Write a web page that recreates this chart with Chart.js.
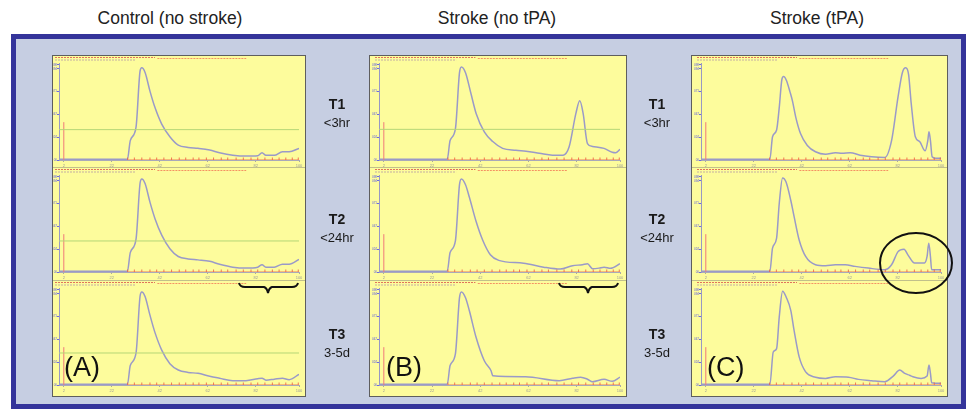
<!DOCTYPE html>
<html>
<head>
<meta charset="utf-8">
<script src="https://cdn.jsdelivr.net/npm/chart.js@4.4.1/dist/chart.umd.min.js"></script>
<style>
  html, body { margin:0; padding:0; background:#ffffff; width:976px; height:409px; overflow:hidden; font-family:"Liberation Sans", Arial, sans-serif; }
  .abs { position:absolute; }
  #frame { left:11px; top:34px; width:955px; height:375px; background:#c6cee2; border:5px solid #34349a; box-sizing:border-box; }
  .colTitle { width:300px; text-align:center; font-size:17.5px; color:#222; top:8px; }
  .panel { background:#fdfc9c; border:1px solid #5e5e5e; box-sizing:border-box; top:55px; height:342px; }
  .sep { height:1px; background:rgba(120,120,120,0.45); }
  .tlab { width:80px; text-align:center; color:#1a1a1a; line-height:17px; }
  .tlab b { font-size:14px; }
  .tlab span { font-size:13px; }
  .big { font-size:27px; color:#111; }
  canvas { position:absolute; }
</style>
</head>
<body>
<div id="frame" class="abs"></div>

<div class="abs colTitle" style="left:20px;">Control (no stroke)</div>
<div class="abs colTitle" style="left:347px;">Stroke (no tPA)</div>
<div class="abs colTitle" style="left:667px;">Stroke (tPA)</div>

<div class="abs panel" style="left:52px;width:254px;"></div>
<div class="abs panel" style="left:369px;width:258px;"></div>
<div class="abs panel" style="left:691px;width:257px;"></div>

<div class="abs sep" style="left:53px;width:252px;top:167px;"></div>
<div class="abs sep" style="left:53px;width:252px;top:280px;"></div>
<div class="abs sep" style="left:370px;width:256px;top:167px;"></div>
<div class="abs sep" style="left:370px;width:256px;top:280px;"></div>
<div class="abs sep" style="left:692px;width:255px;top:167px;"></div>
<div class="abs sep" style="left:692px;width:255px;top:280px;"></div>

<canvas id="c00" width="252" height="112" style="left:53px;top:56px;"></canvas>
<canvas id="c01" width="252" height="112" style="left:53px;top:168px;"></canvas>
<canvas id="c02" width="252" height="112" style="left:53px;top:281px;"></canvas>
<canvas id="c10" width="256" height="112" style="left:370px;top:56px;"></canvas>
<canvas id="c11" width="256" height="112" style="left:370px;top:168px;"></canvas>
<canvas id="c12" width="256" height="112" style="left:370px;top:281px;"></canvas>
<canvas id="c20" width="255" height="112" style="left:692px;top:56px;"></canvas>
<canvas id="c21" width="255" height="112" style="left:692px;top:168px;"></canvas>
<canvas id="c22" width="255" height="112" style="left:692px;top:281px;"></canvas>

<div class="abs tlab" style="left:297px;top:95px;"><b>T1</b><br><span>&lt;3hr</span></div>
<div class="abs tlab" style="left:297px;top:210px;"><b>T2</b><br><span>&lt;24hr</span></div>
<div class="abs tlab" style="left:297px;top:325px;"><b>T3</b><br><span>3-5d</span></div>
<div class="abs tlab" style="left:617px;top:95px;"><b>T1</b><br><span>&lt;3hr</span></div>
<div class="abs tlab" style="left:617px;top:210px;"><b>T2</b><br><span>&lt;24hr</span></div>
<div class="abs tlab" style="left:617px;top:325px;"><b>T3</b><br><span>3-5d</span></div>

<div class="abs big" style="left:64px;top:352px;">(A)</div>
<div class="abs big" style="left:386px;top:352px;">(B)</div>
<div class="abs big" style="left:707px;top:352px;">(C)</div>

<svg class="abs" style="left:0;top:0;" width="976" height="409">
  <path d="M239,283 Q240,287 245,287 L264,287 Q267,288 268,293 Q269,288 272,287 L292,287 Q297,287 298,283" fill="none" stroke="#111" stroke-width="2"/>
  <path d="M559,283 Q560,287 565,287 L584,287 Q587,288 588,293 Q589,288 592,287 L612,287 Q617,287 618,283" fill="none" stroke="#111" stroke-width="2"/>
  <ellipse cx="916" cy="263" rx="36" ry="30" fill="none" stroke="#111" stroke-width="2"/>
</svg>

<script>
// ---------- DATA (x: % of run along axis, y: relative absorbance) ----------
const xControlT1 = [0, 28.5, 29.7, 32.1, 33.8, 34.5, 35.9, 37.9, 40, 42.8, 46.2, 49.7, 53.8, 57.9, 62.8, 66.9, 72.4, 77.9, 82.8, 84.6, 86.2, 89.7, 93.1, 95.9, 100];
const yControlT1 = [0.7, 0.7, 20, 34, 92, 95, 90, 71, 54, 37, 24, 15.3, 13, 12, 10.2, 7.5, 5, 4, 4.4, 7.5, 4.8, 4.8, 8.5, 8.5, 12];
const xControlT2 = [0, 28.5, 29.7, 32.1, 33.8, 34.5, 35.9, 37.9, 40, 42.8, 46.2, 49.7, 53.8, 57.9, 62.8, 66.9, 72.4, 77.9, 82.8, 84.6, 86.2, 89.7, 93.1, 95.9, 100];
const yControlT2 = [0.7, 0.7, 20, 34, 92, 96, 91, 72, 55, 38, 24, 16, 13.5, 12.5, 11, 8, 5, 4, 5, 7.5, 5, 5, 8, 8, 13];
const xControlT3 = [0, 28.5, 29.7, 32.1, 33.8, 34.5, 35.9, 37.9, 40, 42.8, 46.2, 49.7, 53.8, 57.9, 62.8, 66.9, 72.4, 77.9, 82.8, 84.6, 86.2, 89.7, 93.1, 95.9, 100];
const yControlT3 = [0.7, 0.7, 20, 33, 92, 96, 91, 72, 54, 36, 22, 15.5, 13, 12, 9, 7, 4.5, 4.5, 6.5, 7, 5, 6, 7, 5.5, 11];

const xNoTpaT1 = [0, 28.3, 29.5, 31.7, 33.4, 34.2, 35.9, 38.2, 40.3, 43.7, 47.2, 51.3, 56.8, 61, 66.5, 72, 76.4, 78.9, 81.7, 83.3, 84.7, 86.5, 88.6, 93.4, 96.8, 98.2, 100];
const yNoTpaT1 = [0.7, 0.7, 20, 32, 90, 96, 90, 68, 48, 29, 19, 12, 10, 9, 7, 5, 5, 13.6, 48, 61, 48, 17, 14, 12, 8, 7.5, 11];
const xNoTpaT2 = [0, 28.3, 29.5, 31.7, 33.4, 34.2, 35.9, 37.5, 40.3, 43, 46.2, 49.7, 60, 68.3, 75.2, 80.3, 84.4, 86.5, 88.6, 91.3, 93.4, 96.1, 100];
const yNoTpaT2 = [0.7, 0.7, 20, 32, 90, 96, 90, 77, 52, 33, 17.8, 12, 9, 5, 3, 6.5, 7.5, 8.5, 3.4, 4, 5, 3.8, 8.5];
const xNoTpaT3 = [0, 28.3, 29.5, 31.7, 33.4, 34.2, 35.9, 37.5, 40.3, 43.7, 46.5, 47.2, 60.8, 74.8, 80.3, 83.7, 86.5, 88.6, 93.4, 96.8, 100];
const yNoTpaT3 = [0.7, 0.7, 20, 32, 90, 96, 90, 76.5, 49, 25, 14.7, 9.6, 8.6, 4.5, 7, 8, 6, 3.4, 5.8, 3.8, 8];

const xTpaT1 = [0, 28.7, 29.8, 31.5, 32.6, 33.7, 34.4, 35.6, 37.1, 38.1, 39.5, 41.5, 44.3, 47.7, 51.9, 56, 58.7, 62.2, 66.3, 71.1, 76.6, 79.4, 82.1, 83.9, 85.3, 86.5, 87.6, 89.3, 91.1, 93.4, 94.5, 95, 95.6, 96.3, 97.9, 100];
const yTpaT1 = [0.7, 0.7, 24, 31, 54, 83, 86, 82, 70, 61, 44, 27, 15, 8.5, 6, 7.5, 7, 7.5, 5, 3.4, 2.7, 20, 65, 90, 95, 88, 58, 24, 19, 9.5, 20, 29, 20, 3.4, 1.7, 1.7];
const xTpaT2 = [0, 28.7, 29.8, 31.5, 32.6, 34, 35.4, 37.4, 38.8, 40.9, 43.6, 47.7, 51.9, 56, 60.1, 64.2, 69.7, 76.6, 79.4, 82.1, 84.6, 86.2, 89, 93.1, 94.2, 94.9, 95.6, 96.1, 100];
const yTpaT2 = [0.7, 0.7, 24.6, 35, 70.6, 97, 93, 74, 57, 33, 16, 7.5, 6.5, 7.5, 7.5, 5.8, 4, 2.4, 7.5, 21, 23.5, 17.7, 9.2, 9.2, 16, 29.7, 16, 2.4, 2.4];
const xTpaT3 = [0, 28.7, 30.1, 31.5, 32.6, 34, 35.6, 37.4, 38.8, 40.9, 43.6, 47.7, 51.9, 56, 61.5, 65.6, 71.1, 76.6, 80.1, 82.8, 84.9, 86.9, 88.3, 91.7, 94.2, 95, 95.6, 96.1, 100];
const yTpaT3 = [0.7, 0.7, 34, 37.5, 70, 96.6, 90, 77, 56, 29, 13.6, 8, 6.8, 8.5, 8, 5.8, 4.4, 3.4, 9.2, 15.4, 12, 10, 8.5, 6.8, 9.2, 20.5, 12, 2.4, 1.7];

// green reference line level per panel (null = none), rows T1..T3
const greenControl = [31.3, 32, 33];
const greenNoTpa = [31.6, null, null];
const greenTpa = [null, null, null];

// collected fraction marks along the baseline
const fractionX = [28.6, 31.4, 34.5, 37.9, 40.7, 43.7, 46.9, 50.1, 52.8, 55.9, 58.3, 61.4, 64.4, 67.6, 70.3, 73.8, 76.8, 80, 82.8, 85.8, 88.9, 91.7, 94.5, 97.2, 99.7];
// injection marker
const markerX = 2;
const markerHeight = 39;

// axis tick values
const xTickValues = [2, 22, 42, 62, 82, 100];
const yTickValues = [0, 23.5, 47, 70.5, 94, 98];

// ---------- CHARTS ----------
const headerPlugin = {
  id: 'hdr',
  afterDraw(chart) {
    const ctx = chart.ctx, a = chart.chartArea, w = a.right - a.left;
    ctx.save();
    ctx.lineWidth = 1;
    ctx.setLineDash([2, 1]);
    ctx.strokeStyle = 'rgba(215,70,70,0.75)';
    ctx.beginPath(); ctx.moveTo(a.left - 4, 1.5); ctx.lineTo(a.left + 0.40 * w, 1.5); ctx.stroke();
    ctx.strokeStyle = 'rgba(240,110,80,0.75)';
    ctx.beginPath(); ctx.moveTo(a.left + 0.41 * w, 2.5); ctx.lineTo(a.left + 0.78 * w, 2.5); ctx.stroke();
    ctx.strokeStyle = 'rgba(150,110,170,0.55)';
    ctx.beginPath(); ctx.moveTo(a.left - 4, 4); ctx.lineTo(a.left + 0.32 * w, 4); ctx.stroke();
    ctx.restore();
  }
};

function pts(xs, ys) { return xs.map((x, i) => ({ x: x, y: ys[i] })); }

function makeChart(id, xs, ys, green, yAxisW) {
  const datasets = [];
  if (green !== null) {
    datasets.push({ data: [{ x: 0, y: green }, { x: 100, y: green }], borderColor: '#b5d676', borderWidth: 1, pointRadius: 0 });
  }
  datasets.push({ data: [{ x: markerX, y: 0 }, { x: markerX, y: markerHeight }], borderColor: '#f07a7a', borderWidth: 1, pointRadius: 0 });
  datasets.push({
    data: fractionX.map(x => ({ x: x, y: 0 })), borderColor: 'rgba(236,95,70,0.8)', borderWidth: 1,
    pointStyle: 'line', rotation: 90, pointRadius: 2.5, pointBorderColor: 'rgba(236,95,70,0.85)', pointBorderWidth: 1
  });
  datasets.push({ data: pts(xs, ys), borderColor: '#9a9ac8', borderWidth: 1.5, pointRadius: 0, cubicInterpolationMode: 'monotone' });

  new Chart(document.getElementById(id), {
    type: 'line',
    data: { datasets: datasets },
    plugins: [headerPlugin],
    options: {
      responsive: false, animation: false, devicePixelRatio: 1,
      layout: { padding: { top: 7, right: 6, left: 0, bottom: 0 } },
      plugins: { legend: { display: false }, tooltip: { enabled: false } },
      scales: {
        x: {
          type: 'linear', min: 0, max: 100,
          afterBuildTicks: s => { s.ticks = xTickValues.map(v => ({ value: v })); },
          afterFit: s => { s.height = 8; },
          grid: { display: true, drawOnChartArea: false, tickLength: 2, color: 'rgba(150,150,150,0.8)' },
          border: { display: true, color: 'rgba(160,160,190,0.9)' },
          ticks: { font: { size: 4 }, color: '#9a9a9a', padding: 1, maxRotation: 0, autoSkip: false, callback: v => String(v) }
        },
        y: {
          min: 0, max: 100,
          afterBuildTicks: s => { s.ticks = yTickValues.map(v => ({ value: v })); },
          afterFit: s => { s.width = yAxisW; },
          grid: { display: true, drawOnChartArea: false, tickLength: 2, color: '#6b6be0' },
          border: { display: true, color: '#9898c4' },
          ticks: { font: { size: 3 }, color: '#5a5ae0', padding: 0, autoSkip: false, callback: v => '0' + Math.round(v) }
        }
      }
    }
  });
}

makeChart('c00', xControlT1, yControlT1, greenControl[0], 6);
makeChart('c01', xControlT2, yControlT2, greenControl[1], 6);
makeChart('c02', xControlT3, yControlT3, greenControl[2], 6);
makeChart('c10', xNoTpaT1, yNoTpaT1, greenNoTpa[0], 9);
makeChart('c11', xNoTpaT2, yNoTpaT2, greenNoTpa[1], 9);
makeChart('c12', xNoTpaT3, yNoTpaT3, greenNoTpa[2], 9);
makeChart('c20', xTpaT1, yTpaT1, greenTpa[0], 9);
makeChart('c21', xTpaT2, yTpaT2, greenTpa[1], 9);
makeChart('c22', xTpaT3, yTpaT3, greenTpa[2], 9);
</script>
</body>
</html>
